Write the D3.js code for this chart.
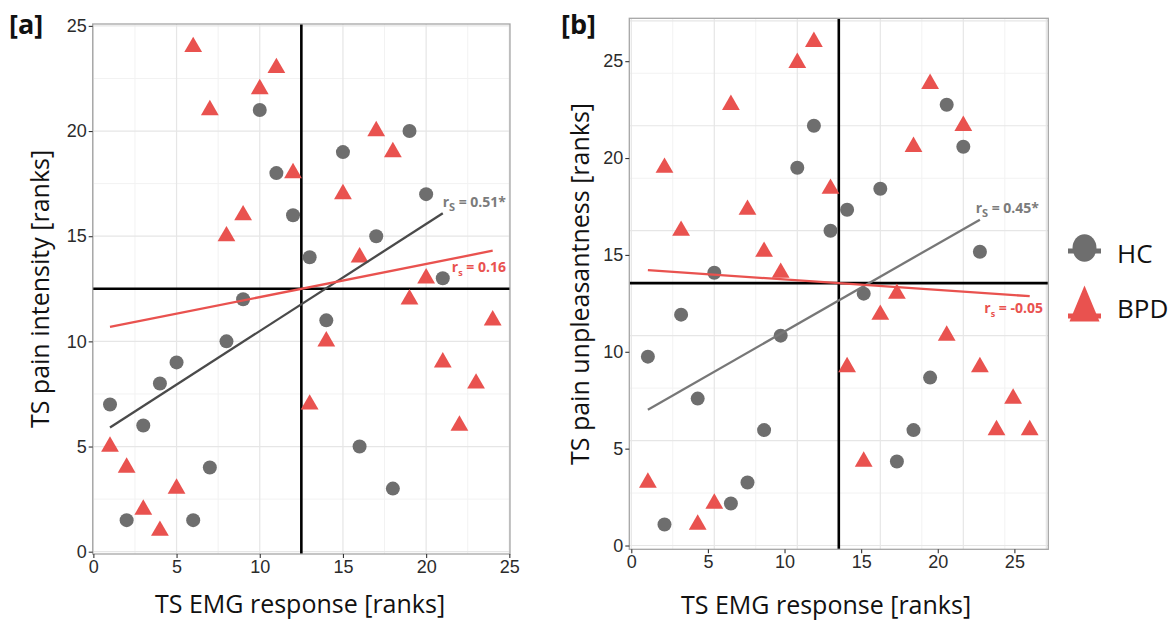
<!DOCTYPE html>
<html>
<head>
<meta charset="utf-8">
<script src="https://cdn.jsdelivr.net/npm/d3@7"></script>
<style>
  body { margin: 0; background: #fff; }
  svg { display: block; }
</style>
</head>
<body>
<svg id="chart" width="1169" height="621"></svg>
<script>
// ---------------- DATA ----------------
const groups = ["HC", "BPD"];
// TS EMG response ranks (x)
const emgRanksHC  = [1,2,3,4,5,6,7,8,9,10,11,12,13,14,15,16,17,18,19,20,21];
const emgRanksBPD = [1,2,3,4,5,6,7,8,9,10,11,12,13,14,15,16,17,18,19,20,21,22,23,24];
// [a] TS pain intensity ranks (y)
const intensityHC  = [7,1.5,6,8,9,1.5,4,10,12,21,18,16,14,11,19,5,15,3,20,17,13];
const intensityBPD = [5,4,2,1,3,24,21,15,16,22,23,18,7,10,17,14,20,19,12,13,9,6,8,11];
// [b] TS pain unpleasantness ranks (y)
const unpleasantHC  = [9,1,11,7,13,2,3,5.5,10,18,20,15,16,12,17,4,5.5,8,21,19,14];
const unpleasantBPD = [3,18,15,1,2,21,16,14,13,23,24,17,8.5,4,11,12,19,22,10,20,8.5,5.5,7,5.5];
// Spearman labels
const rsLabelsA = ["0.51*", "0.16"];
const rsLabelsB = ["0.45*", "-0.05"];
// tick labels, grid, median split
const tickLabels = [0, 5, 10, 15, 20, 25];
const gridMajor = [0, 5, 10, 15, 20, 25];
const gridMinor = [2.5, 7.5, 12.5, 17.5, 22.5];
const medianRank = 12.5;
// panel [b] axis labels are printed on a rescaled rank axis (26/24)
const axisRescaleB = 26 / 24;

// ---------------- STYLE / LAYOUT ----------------
const COLORS = { HC: "#6e6e6e", BPD: "#e9524f" };
const FONT_TITLE = "'Open Sans', 'Noto Sans', sans-serif";
const FONT_TICK = "'Liberation Sans', Arial, sans-serif";

const panels = [
  {
    tag: "[a]", tagPos: [9, 34],
    yTitle: "TS pain intensity [ranks]", yTitlePos: [49, 289],
    xTitle: "TS EMG response [ranks]", xTitlePos: [300, 613],
    hcY: intensityHC, bpdY: intensityBPD, rs: rsLabelsA,
    rect: { x0: 92.7, x1: 510, y0: 24, y1: 554 },
    xDomain: [-0.04, 25.04], yDomain: [-0.11, 25.09],
    axisFactor: 1,
    hcLine: "#4a4a4a",
    rsPos: [[24.8, 16.4], [24.8, 13.3]],
    subs: ["S", "s"]
  },
  {
    tag: "[b]", tagPos: [561, 34],
    yTitle: "TS pain unpleasantness [ranks]", yTitlePos: [589, 284],
    xTitle: "TS EMG response [ranks]", xTitlePos: [826, 614],
    hcY: unpleasantHC, bpdY: unpleasantBPD, rs: rsLabelsB,
    rect: { x0: 629.3, x1: 1048.3, y0: 18.3, y1: 549.3 },
    xDomain: [-0.12, 25.12], yDomain: [-0.18, 25.12],
    axisFactor: axisRescaleB,
    hcLine: "#777777",
    rsPos: [[24.56, 15.84], [24.8, 11.08]],
    subs: ["S", "s"]
  }
];

const svg = d3.select("#chart");
svg.append("rect").attr("width", 1169).attr("height", 621).attr("fill", "#fff");

function fit(xs, ys) {
  const mx = d3.mean(xs), my = d3.mean(ys);
  let sxy = 0, sxx = 0;
  xs.forEach((x, i) => { sxy += (x - mx) * (ys[i] - my); sxx += (x - mx) ** 2; });
  const b = sxy / sxx, a = my - b * mx;
  const [x0, x1] = d3.extent(xs);
  return [[x0, a + b * x0], [x1, a + b * x1]];
}

const circleSym = d3.symbol().type(d3.symbolCircle).size(Math.PI * 7 * 7);
const triSym = d3.symbol().type(d3.symbolTriangle).size(17.8 * 17.8 * Math.sqrt(3) / 4);

panels.forEach(p => {
  const g = svg.append("g");
  const x = d3.scaleLinear().domain(p.xDomain).range([p.rect.x0, p.rect.x1]);
  const y = d3.scaleLinear().domain(p.yDomain).range([p.rect.y1, p.rect.y0]);
  // axis label scales (same positions, rescaled label values for [b])
  const xa = x.copy().domain(p.xDomain.map(d => d * p.axisFactor));
  const ya = y.copy().domain(p.yDomain.map(d => d * p.axisFactor));

  // grid
  const grid = g.append("g");
  [[gridMinor, "#f2f2f2", 1], [gridMajor, "#e6e6e6", 1.2]].forEach(([vals, col, w]) => {
    grid.selectAll(null).data(vals).enter().append("line")
      .attr("x1", d => x(d)).attr("x2", d => x(d))
      .attr("y1", p.rect.y0).attr("y2", p.rect.y1)
      .attr("stroke", col).attr("stroke-width", w);
    grid.selectAll(null).data(vals).enter().append("line")
      .attr("y1", d => y(d)).attr("y2", d => y(d))
      .attr("x1", p.rect.x0).attr("x2", p.rect.x1)
      .attr("stroke", col).attr("stroke-width", w);
  });

  // median split lines
  g.append("line").attr("x1", p.rect.x0).attr("x2", p.rect.x1)
    .attr("y1", y(medianRank)).attr("y2", y(medianRank))
    .attr("stroke", "#000").attr("stroke-width", 2.6);
  g.append("line").attr("y1", p.rect.y0).attr("y2", p.rect.y1)
    .attr("x1", x(medianRank)).attr("x2", x(medianRank))
    .attr("stroke", "#000").attr("stroke-width", 2.6);

  // points
  const hcPts = emgRanksHC.map((v, i) => [v, p.hcY[i]]);
  const bpdPts = emgRanksBPD.map((v, i) => [v, p.bpdY[i]]);
  g.selectAll(null).data(hcPts).enter().append("path")
    .attr("d", circleSym).attr("transform", d => `translate(${x(d[0])},${y(d[1])})`)
    .attr("fill", COLORS.HC);
  g.selectAll(null).data(bpdPts).enter().append("path")
    .attr("d", triSym).attr("transform", d => `translate(${x(d[0])},${y(d[1])})`)
    .attr("fill", COLORS.BPD);

  // regression lines
  const line = d3.line().x(d => x(d[0])).y(d => y(d[1]));
  g.append("path").attr("d", line(fit(emgRanksHC, p.hcY)))
    .attr("stroke", p.hcLine).attr("stroke-width", 2.3).attr("fill", "none");
  g.append("path").attr("d", line(fit(emgRanksBPD, p.bpdY)))
    .attr("stroke", COLORS.BPD).attr("stroke-width", 2.3).attr("fill", "none");

  // rs labels
  p.rs.forEach((lab, i) => {
    const t = g.append("text")
      .attr("x", x(p.rsPos[i][0])).attr("y", y(p.rsPos[i][1]))
      .attr("text-anchor", "end")
      .attr("font-family", FONT_TITLE).attr("font-weight", 700).attr("font-size", 14)
      .attr("fill", i === 0 ? "#7b7b7b" : COLORS.BPD);
    t.append("tspan").text("r");
    t.append("tspan").attr("dy", 4).attr("font-size", i === 0 ? 11 : 9).text(p.subs[i]);
    t.append("tspan").attr("dy", -4).text(" = " + lab);
  });

  // border
  g.append("rect").attr("x", p.rect.x0).attr("y", p.rect.y0)
    .attr("width", p.rect.x1 - p.rect.x0).attr("height", p.rect.y1 - p.rect.y0)
    .attr("fill", "none").attr("stroke", "#a6a6a6").attr("stroke-width", 1.3);

  // axes
  const ax = g.append("g").attr("transform", `translate(0,${p.rect.y1})`)
    .call(d3.axisBottom(xa).tickValues(tickLabels).tickSize(4).tickPadding(2));
  const ay = g.append("g").attr("transform", `translate(${p.rect.x0},0)`)
    .call(d3.axisLeft(ya).tickValues(tickLabels).tickSize(4).tickPadding(2));
  [ax, ay].forEach(a => {
    a.select(".domain").remove();
    a.selectAll(".tick line").attr("stroke", "#333").attr("stroke-width", 1.1);
    a.selectAll(".tick text").attr("fill", "#2b2b2b")
      .attr("font-family", FONT_TICK).attr("font-size", 18);
  });

  // titles
  g.append("text").attr("transform", `translate(${p.xTitlePos[0]},${p.xTitlePos[1]})`)
    .attr("text-anchor", "middle").attr("font-family", FONT_TITLE).attr("font-size", 25)
    .attr("fill", "#111").text(p.xTitle);
  g.append("text").attr("transform", `translate(${p.yTitlePos[0]},${p.yTitlePos[1]}) rotate(-90)`)
    .attr("text-anchor", "middle").attr("font-family", FONT_TITLE).attr("font-size", 25)
    .attr("fill", "#111").text(p.yTitle);
  g.append("text").attr("x", p.tagPos[0]).attr("y", p.tagPos[1])
    .attr("font-family", FONT_TITLE).attr("font-weight", 700).attr("font-size", 27)
    .attr("fill", "#111").text(p.tag);
});

// ---------------- LEGEND ----------------
const legendLayout = {
  keyX: 1084.5, keyW: 33, textX: 1117,
  rows: [
    { lineY: 251, symY: 248, textY: 263 },
    { lineY: 316, symY: 309.5, textY: 318 }
  ]
};
const leg = svg.append("g");
groups.forEach((grp, i) => {
  const r = legendLayout.rows[i];
  leg.append("line")
    .attr("x1", legendLayout.keyX - legendLayout.keyW / 2).attr("x2", legendLayout.keyX + legendLayout.keyW / 2)
    .attr("y1", r.lineY).attr("y2", r.lineY)
    .attr("stroke", COLORS[grp]).attr("stroke-width", 5);
  const sym = grp === "HC"
    ? d3.symbol().type(d3.symbolCircle).size(Math.PI * 12 * 12)
    : d3.symbol().type(d3.symbolTriangle).size(30 * 30 * Math.sqrt(3) / 4);
  leg.append("path").attr("d", sym())
    .attr("transform", `translate(${legendLayout.keyX},${r.symY}) scale(1,${grp === "HC" ? 1.15 : 1.38})`)
    .attr("fill", COLORS[grp]);
  leg.append("text").attr("x", legendLayout.textX).attr("y", r.textY)
    .attr("font-family", FONT_TITLE).attr("font-size", 26).attr("fill", "#111").text(grp);
});
</script>
</body>
</html>
